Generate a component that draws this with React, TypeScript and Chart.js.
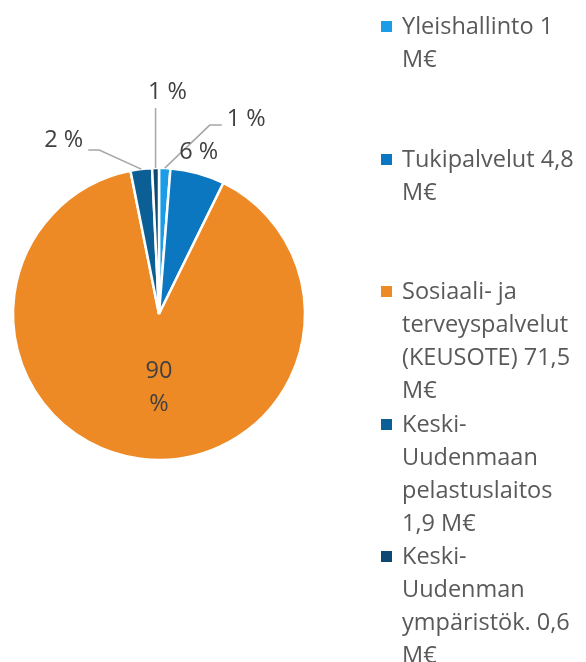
import React, { useEffect, useRef } from 'react';
import { Chart, registerables } from 'chart.js';

Chart.register(...registerables);

const categories = [
  'Yleishallinto 1 M€',
  'Tukipalvelut 4,8 M€',
  'Sosiaali- ja terveyspalvelut (KEUSOTE) 71,5 M€',
  'Keski-Uudenmaan pelastuslaitos 1,9 M€',
  'Keski-Uudenman ympäristök. 0,6 M€',
];
const values = [1, 4.8, 71.5, 1.9, 0.6];
const colors = ['#1A9CE6', '#0B77C0', '#EE8A26', '#0C5F95', '#0C4A74'];

const total = values.reduce((a, b) => a + b, 0);
const pctLabels = values.map((v) => `${Math.round((v / total) * 100)} %`);

const FONT = '"Open Sans", sans-serif';

// label layout relative to each slice's outer mid-point (px)
type Lay = { mode: 'leader' | 'text' | 'inside'; pts?: number[][]; tx: number; ty: number; align: CanvasTextAlign };
const layouts: Lay[] = [
  { mode: 'leader', pts: [[45, -43], [57, -43]], tx: 62, ty: -49, align: 'left' },
  { mode: 'text', tx: 1, ty: -21, align: 'center' },
  { mode: 'inside', tx: 0, ty: 57, align: 'center' },
  { mode: 'leader', pts: [[-42, -19], [-53, -19]], tx: -58, ty: -29, align: 'right' },
  { mode: 'leader', pts: [[0, -60]], tx: 12, ty: -76, align: 'center' },
];

const labelPlugin = {
  id: 'pieLabels',
  afterDraw(chart: any) {
    const ctx = chart.ctx as CanvasRenderingContext2D;
    const meta = chart.getDatasetMeta(0);
    ctx.save();
    ctx.font = `23.5px ${FONT}`;
    ctx.textBaseline = 'middle';
    meta.data.forEach((arc: any, i: number) => {
      const { x, y, startAngle, endAngle, outerRadius } = arc.getProps(
        ['x', 'y', 'startAngle', 'endAngle', 'outerRadius'],
        true
      );
      const mid = (startAngle + endAngle) / 2;
      const ax = x + Math.cos(mid) * outerRadius;
      const ay = y + Math.sin(mid) * outerRadius;
      const L = layouts[i];
      ctx.fillStyle = '#404040';
      ctx.textAlign = L.align;
      if (L.mode === 'inside') {
        const parts = pctLabels[i].split(' ');
        ctx.fillText(parts[0], x + L.tx, y + L.ty);
        ctx.fillText(parts[1], x + L.tx, y + L.ty + 33);
        return;
      }
      if (L.mode === 'leader' && L.pts) {
        ctx.strokeStyle = '#A6A6A6';
        ctx.lineWidth = 1.5;
        ctx.beginPath();
        ctx.moveTo(ax, ay);
        L.pts.forEach((p) => ctx.lineTo(ax + p[0], ay + p[1]));
        ctx.stroke();
      }
      ctx.fillText(pctLabels[i], ax + L.tx, ay + L.ty);
    });
    ctx.restore();
  },
};

export default function App() {
  const ref = useRef<HTMLCanvasElement>(null);
  useEffect(() => {
    if (!ref.current) return;
    const chart = new Chart(ref.current, {
      type: 'pie',
      data: {
        labels: categories,
        datasets: [
          {
            data: values,
            backgroundColor: colors,
            borderColor: '#ffffff',
            borderWidth: 2.5,
            radius: 146,
          } as any,
        ],
      },
      options: {
        responsive: false,
        animation: false,
        layout: { padding: { left: 0, top: 0, right: 268, bottom: 34 } },
        plugins: {
          legend: { display: false },
          tooltip: { enabled: false },
        },
      },
      plugins: [labelPlugin],
    });
    return () => chart.destroy();
  }, []);

  return (
    <div style={{ position: 'absolute', left: 0, top: 0, width: 586, height: 662, background: '#fff', overflow: 'hidden' }}>
      <canvas ref={ref} width={586} height={662} style={{ position: 'absolute', left: 0, top: 0 }} />
      {categories.map((c, i) => (
        <div
          key={i}
          style={{
            position: 'absolute',
            left: 381,
            top: 9 + i * 132.6,
            width: 205,
            height: 132,
            fontFamily: FONT,
            fontSize: 23.5,
            lineHeight: '33px',
            color: '#595959',
          }}
        >
          <span
            style={{
              position: 'absolute',
              left: 0,
              top: 12,
              width: 11,
              height: 11,
              background: colors[i],
            }}
          />
          <div style={{ position: 'absolute', left: 21, top: 0, width: 184 }}>{c}</div>
        </div>
      ))}
    </div>
  );
}
